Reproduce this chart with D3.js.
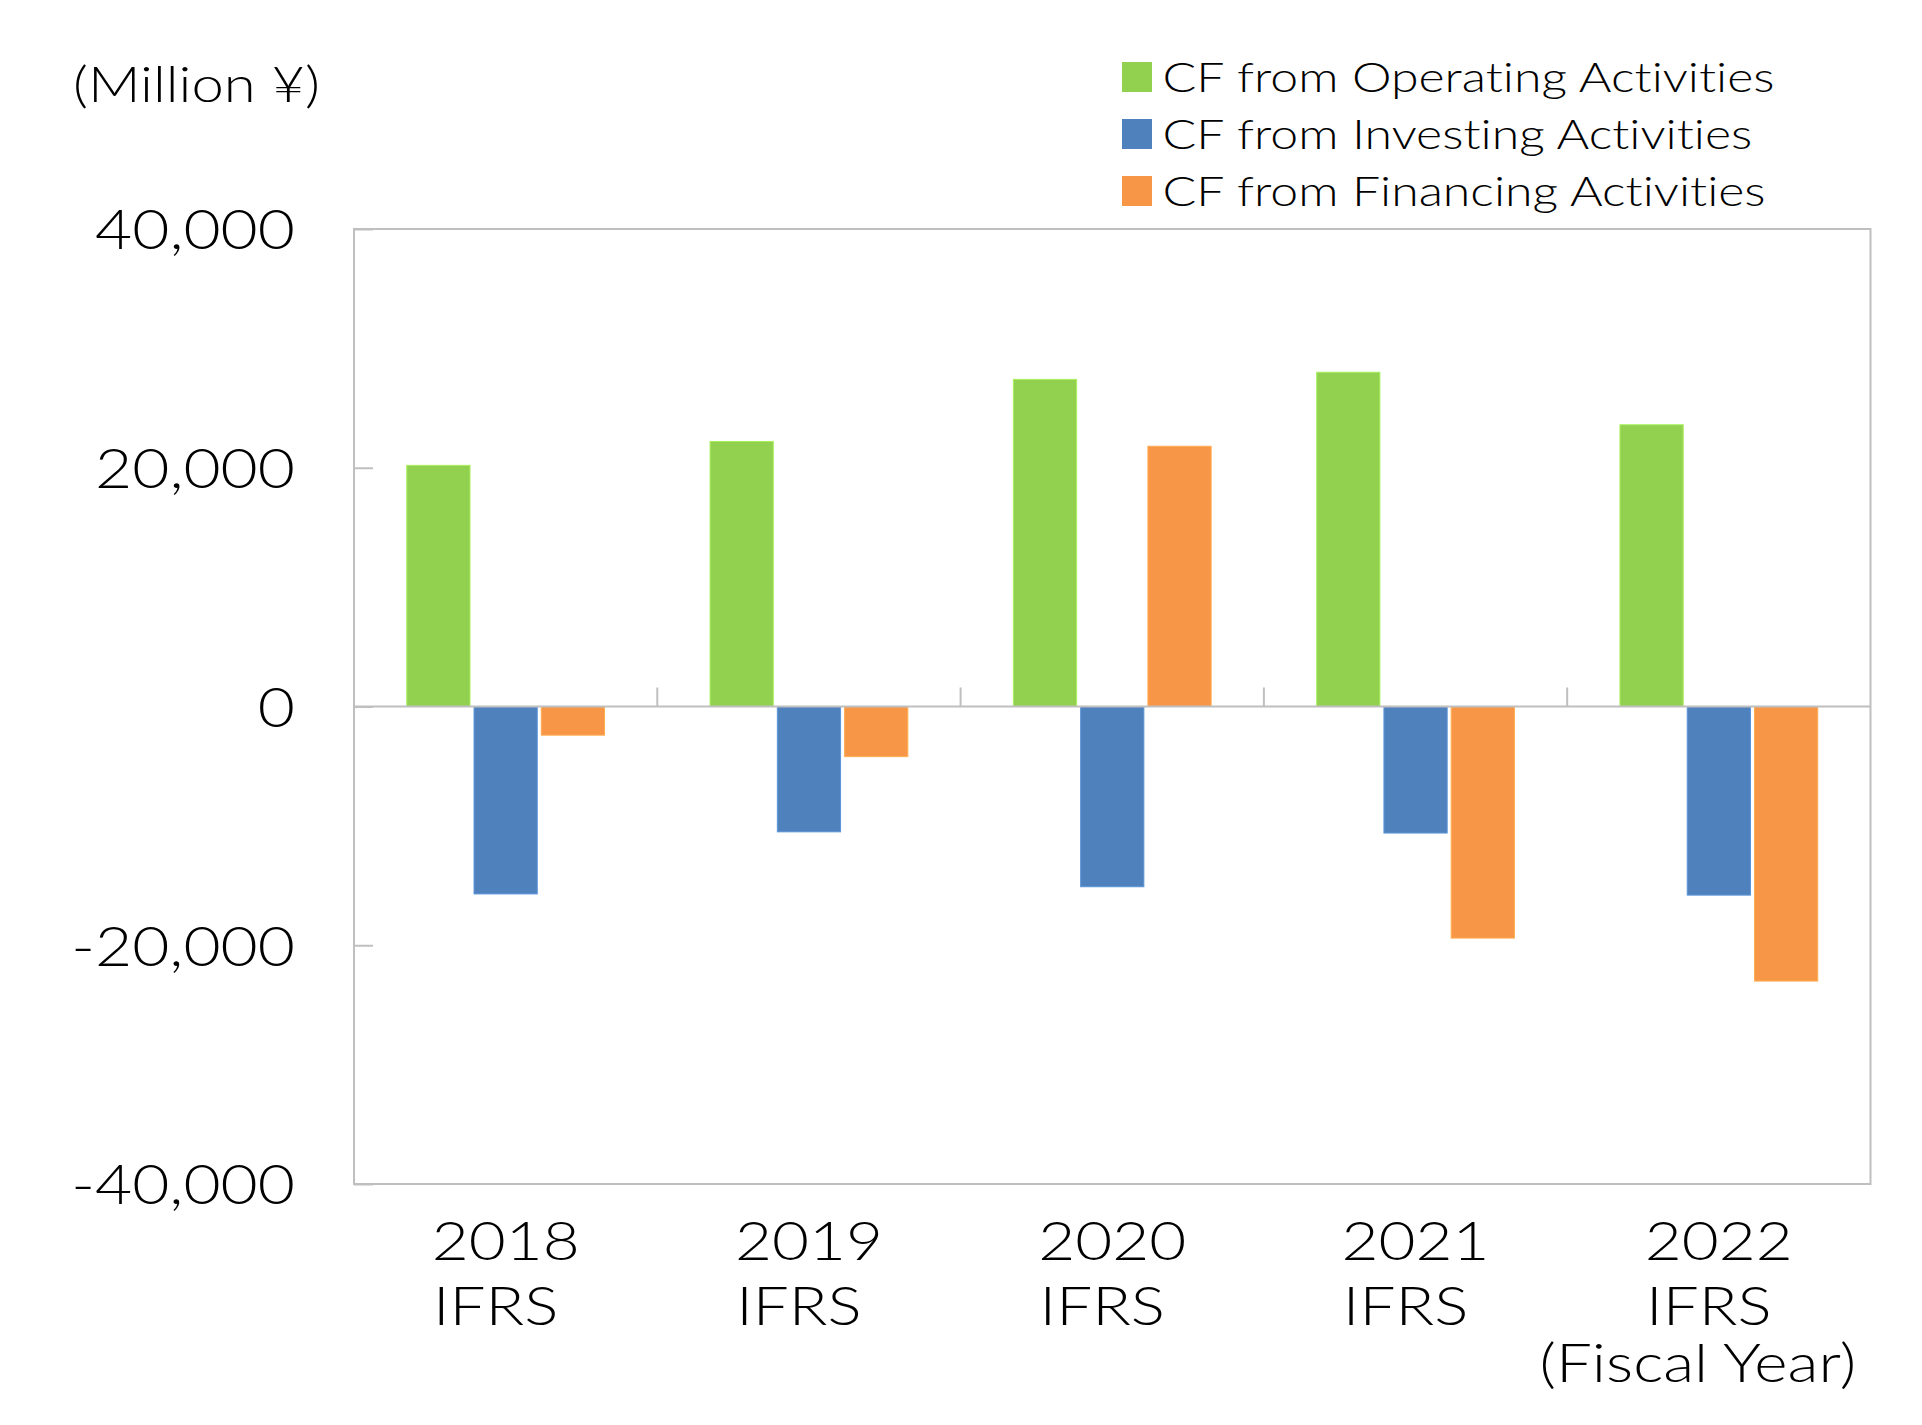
<!DOCTYPE html>
<html>
<head>
<meta charset="utf-8">
<script src="https://cdn.jsdelivr.net/npm/d3@7"></script>
<style>
  html, body { margin: 0; padding: 0; background: #ffffff; }
  svg { display: block; }
  text { font-family: Lato, "Noto Sans", sans-serif; font-weight: 300; fill: #000;
         font-variant-ligatures: none; font-feature-settings: "liga" 0, "clig" 0; }
</style>
</head>
<body>
<svg id="chart" width="1922" height="1425"></svg>
<script>
// ---- data ----
const years = ["2018", "2019", "2020", "2021", "2022"];
const yearSubLabels = [["IFRS"], ["IFRS"], ["IFRS"], ["IFRS"], ["IFRS", "(Fiscal Year)"]];
const seriesNames = ["CF from Operating Activities", "CF from Investing Activities", "CF from Financing Activities"];
const operating = [20200, 22200, 27400, 28000, 23600];
const investing = [-15700, -10500, -15100, -10600, -15800];
const financing = [-2400, -4200, 21800, -19400, -23000];
const yTicks = [-40000, -20000, 0, 20000, 40000];
const unitLabel = "(Million ¥)";
const colors = ["#92D050", "#4F81BD", "#F79646"];

const seriesValues = [operating, investing, financing];

// ---- layout ----
const plot = { left: 354, right: 1870.5, top: 229, bottom: 1184 };
const gridColor = "#BFBFBF";
const svg = d3.select("#chart");

const x0 = d3.scaleBand().domain(years).range([plot.left, plot.right]).padding(0);
const bw = x0.bandwidth();
const x1 = d3.scaleBand().domain(seriesNames)
  .range([bw * 0.174, bw * (1 - 0.174)]).paddingInner(0.06).paddingOuter(0);
const y = d3.scaleLinear().domain([-40000, 40000]).range([plot.bottom, plot.top]);

// helper: stretch text horizontally to target width via textLength
function fitWidth(sel, factor) {
  sel.each(function () {
    const w = this.getComputedTextLength();
    d3.select(this).attr("textLength", w * factor).attr("lengthAdjust", "spacingAndGlyphs");
  });
}
function factorFor(sampleText, fontSize, target) {
  const t = svg.append("text").attr("font-size", fontSize).text(sampleText);
  const w = t.node().getComputedTextLength();
  t.remove();
  return target / w;
}
const fmt = d => d3.format(",")(Math.abs(d)).replace(/^/, d < 0 ? "-" : "");

// ---- plot frame ----
svg.append("rect")
  .attr("x", plot.left).attr("y", plot.top)
  .attr("width", plot.right - plot.left).attr("height", plot.bottom - plot.top)
  .attr("fill", "none").attr("stroke", gridColor).attr("stroke-width", 2);

// ---- y axis (ticks inside) ----
const yAxis = d3.axisLeft(y).tickValues(yTicks).tickSize(-19).tickPadding(59).tickFormat(fmt);
const yG = svg.append("g").attr("transform", `translate(${plot.left},0)`).call(yAxis);
yG.select(".domain").remove();
yG.selectAll(".tick line").attr("stroke", gridColor).attr("stroke-width", 2);
const yFactor = factorFor("40,000", 55, 200);
yG.selectAll(".tick text")
  .attr("font-size", 55).attr("font-family", null).attr("fill", "#000")
  .attr("dy", "0.36em")
  .call(fitWidth, yFactor);

// ---- bars ----
const groups = svg.append("g").selectAll("g").data(years).join("g")
  .attr("transform", d => `translate(${x0(d)},0)`);
groups.selectAll("rect")
  .data((yr, i) => seriesNames.map((s, k) => ({ s, k, v: seriesValues[k][i] })))
  .join("rect")
  .attr("x", d => x1(d.s))
  .attr("width", x1.bandwidth())
  .attr("y", d => Math.min(y(d.v), y(0)))
  .attr("height", d => Math.abs(y(d.v) - y(0)))
  .attr("fill", d => colors[d.k])
  .attr("stroke", d => d3.color(colors[d.k]).brighter(0.4))
  .attr("stroke-width", 1);

// ---- zero line with category ticks pointing up ----
const zG = svg.append("g").attr("transform", `translate(0,${y(0)})`);
zG.append("line")
  .attr("x1", plot.left).attr("x2", plot.right).attr("y1", 0).attr("y2", 0)
  .attr("stroke", gridColor).attr("stroke-width", 2);
zG.selectAll("line.ct").data(years.slice(1)).join("line").attr("class", "ct")
  .attr("x1", d => x0(d)).attr("x2", d => x0(d))
  .attr("y1", 0).attr("y2", -19)
  .attr("stroke", gridColor).attr("stroke-width", 2);

// ---- category labels ----
const xFactor = factorFor("2018", 53, 148);
const lab = svg.append("g").selectAll("g").data(years).join("g")
  .attr("transform", d => `translate(${x0(d) + bw / 2},0)`);
lab.append("text").attr("text-anchor", "middle").attr("font-size", 53)
  .attr("y", 1260).text(d => d).call(fitWidth, xFactor);
const subY = [1325, 1382];
const subDx = [-10, -21];
lab.each(function (d, i) {
  yearSubLabels[i].forEach((t, j) => {
    d3.select(this).append("text").attr("text-anchor", "middle").attr("font-size", 53)
      .attr("x", subDx[j]).attr("y", subY[j]).text(t).call(fitWidth, xFactor);
  });
});

// ---- unit label ----
const uFactor = factorFor(unitLabel, 50, 247);
svg.append("text").attr("x", 73).attr("y", 102).attr("font-size", 50)
  .text(unitLabel).call(fitWidth, uFactor);

// ---- legend ----
const legFactor = factorFor(seriesNames[0], 42, 612);
const leg = svg.append("g").selectAll("g").data(seriesNames).join("g")
  .attr("transform", (d, i) => `translate(1122,${62 + i * 57})`);
leg.append("rect").attr("width", 30).attr("height", 30)
  .attr("fill", (d, i) => colors[i]);
leg.append("text").attr("x", 40.5).attr("y", 29.7).attr("font-size", 42)
  .text(d => d).call(fitWidth, legFactor);
</script>
</body>
</html>
